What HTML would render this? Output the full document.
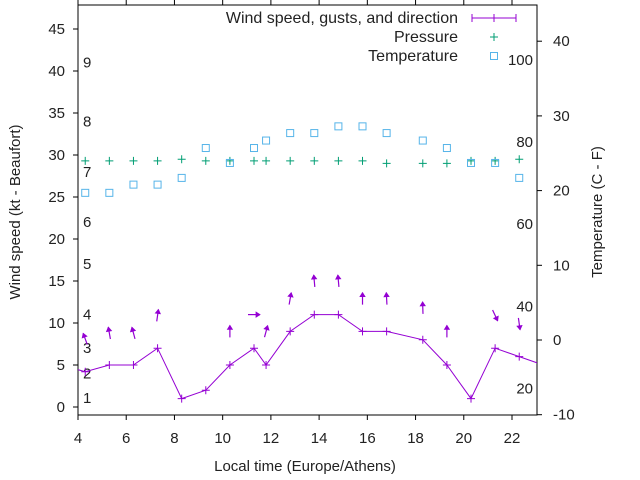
<!DOCTYPE html>
<html><head><meta charset="utf-8"><style>
body{margin:0;background:#fff}
svg{display:block;font-family:"Liberation Sans",Arial,sans-serif}
text{font-size:15px;fill:#222}
#legend text{font-size:16px}
</style></head><body>
<svg id="chart" width="640" height="480" viewBox="0 0 640 480">
<g id="axes"></g>
<g id="beaufort"></g>
<g id="fahr"></g>
<g id="series"></g>
<g id="legend">
<text x="458" y="23" text-anchor="end">Wind speed, gusts, and direction</text>
<g stroke="#9400d3" stroke-width="1"><line x1="472" y1="18" x2="516" y2="18"/><line x1="472" y1="14" x2="472" y2="22"/><line x1="516" y1="14" x2="516" y2="22"/><line x1="490" y1="18" x2="498" y2="18"/><line x1="494" y1="14" x2="494" y2="22"/></g>
<text x="458" y="42" text-anchor="end">Pressure</text>
<g stroke="#009e73"><line x1="490" y1="37" x2="498" y2="37"/><line x1="494" y1="33" x2="494" y2="41"/></g>
<text x="458" y="61" text-anchor="end">Temperature</text>
<rect x="490.5" y="52.5" width="7" height="7" fill="none" stroke="#56b4e9"/>
</g>
<text x="305" y="471" text-anchor="middle">Local time (Europe/Athens)</text>
<text transform="translate(20,212) rotate(-90)" text-anchor="middle">Wind speed (kt - Beaufort)</text>
<text transform="translate(602,212) rotate(-90)" text-anchor="middle">Temperature (C - F)</text>
</svg>
<script>
const times=[3.3,4.3,5.3,6.3,7.3,8.3,9.3,10.3,11.3,11.8,12.8,13.8,14.8,15.8,16.8,18.3,19.3,20.3,21.3,22.3,23.3];
const windSpeed=[5,4.2,5,5,7,1,2,5,7,5,9,11,11,9,9,8,5,1,7,6,5];
const obsTimes=[4.3,5.3,6.3,7.3,8.3,9.3,10.3,11.3,11.8,12.8,13.8,14.8,15.8,16.8,18.3,19.3,20.3,21.3,22.3];
const pressure=[29.3,29.3,29.3,29.3,29.5,29.3,29.3,29.3,29.3,29.3,29.3,29.3,29.3,29.0,29.0,29.0,29.3,29.3,29.5];
const temperature=[19.7,19.7,20.8,20.8,21.7,25.7,23.7,25.7,26.7,27.7,27.7,28.6,28.6,27.7,26.7,25.7,23.7,23.7,21.7];
const arrowTimes=[4.3,5.3,6.3,7.3,10.3,11.3,11.8,12.8,13.8,14.8,15.8,16.8,18.3,19.3,21.3,22.3];
const gusts=[8.1,8.8,8.8,10.9,9.0,11,9.0,12.9,15.0,15.0,12.9,12.9,11.8,9.0,10.9,9.9];
const directions=[-20,-10,-15,8,0,90,15,10,-5,-5,0,-3,-2,0,155,172];
const xTicks=[4,6,8,10,12,14,16,18,20,22];
const yTicks=[0,5,10,15,20,25,30,35,40,45];
const y2Ticks=[-10,0,10,20,30,40];
const beaufortLabels=[[1,1.1],[2,4],[3,7],[4,11],[5,17],[6,22],[7,28],[8,34],[9,41]];
const fahrLabels=[[20,-6.5],[40,4.5],[60,15.5],[80,26.5],[100,37.5]];

const L=78,R=537,T=5,B=415;
const X=v=>L+(v-4)*(434/18);
const Y=v=>407-v*8.4;
const Y2=v=>340-v*7.47;
const NS='http://www.w3.org/2000/svg';
function mk(tag,parent,attrs){const e=document.createElementNS(NS,tag);for(const k in attrs)e.setAttribute(k,attrs[k]);parent.appendChild(e);return e;}
const axes=document.getElementById('axes');
let f=mk('rect',axes,{x:L,y:T,width:R-L,height:B-T,fill:'none',stroke:'#000'});


xTicks.forEach(t=>{
  const x=X(t);
  let a=mk('line',axes,{x1:x,y1:B,x2:x,y2:B+5,stroke:'#000'});
  
  
  let b=mk('line',axes,{x1:x,y1:T,x2:x,y2:T-5,stroke:'#000'});
  
  
  let tx=mk('text',axes,{x:x,y:443,'text-anchor':'middle'});tx.textContent=t;
  
  
});
yTicks.forEach(t=>{
  const y=Y(t);
  let a=mk('line',axes,{x1:L-5,y1:y,x2:L,y2:y,stroke:'#000'});
  
  
  let tx=mk('text',axes,{x:65,y:y+5,'text-anchor':'end'});tx.textContent=t;
  
  
});
y2Ticks.forEach(t=>{
  const y=Y2(t);
  let a=mk('line',axes,{x1:R,y1:y,x2:R+5,y2:y,stroke:'#000'});
  
  
  let tx=mk('text',axes,{x:553,y:y+5,'text-anchor':'start'});tx.textContent=t;
  
  
});
const bf=document.getElementById('beaufort');
beaufortLabels.forEach(([n,v])=>{let t=mk('text',bf,{x:83,y:Y(v)+5});t.textContent=n;
  
  });
const fh=document.getElementById('fahr');
fahrLabels.forEach(([n,v])=>{let t=mk('text',fh,{x:533,y:Y2(v)+5,'text-anchor':'end'});t.textContent=n;
  
  });

const s=document.getElementById('series');
const cp=mk('clipPath',s,{id:'clip'});
mk('rect',cp,{x:L,y:T,width:R-L,height:B-T});
const g=mk('g',s,{'clip-path':'url(#clip)'});
let pl=mk('polyline',g,{points:times.map((t,i)=>X(t)+','+Y(windSpeed[i])).join(' '),fill:'none',stroke:'#9400d3','stroke-width':1});


times.forEach((t,i)=>{const x=X(t),y=Y(windSpeed[i]);
  let m=mk('path',g,{d:`M${x-4},${y}H${x+4}M${x},${y-4}V${y+4}`,stroke:'#9400d3'});
  
  });
arrowTimes.forEach((t,i)=>{
  const a=directions[i]*Math.PI/180,len=12;
  const cx=X(t),cy=Y(gusts[i]);
  const dx=Math.sin(a),dy=-Math.cos(a);
  const x1=cx-dx*len/2,y1=cy-dy*len/2,x2=cx+dx*len/2,y2=cy+dy*len/2;
  const hx1=x2-dx*4+dy*2.5,hy1=y2-dy*4-dx*2.5,hx2=x2-dx*4-dy*2.5,hy2=y2-dy*4+dx*2.5;
  let ar=mk('path',g,{d:`M${x1},${y1}L${x2},${y2}`,stroke:'#9400d3','stroke-width':1.2,fill:'none'});
  
  
  let hd=mk('path',g,{d:`M${hx1},${hy1}L${x2},${y2}L${hx2},${hy2}Z`,fill:'#9400d3',stroke:'#9400d3','stroke-width':0.8});
  
  
});
obsTimes.forEach((t,i)=>{const x=X(t),y=Y(pressure[i]);
  let m=mk('path',g,{d:`M${x-4},${y}H${x+4}M${x},${y-4}V${y+4}`,stroke:'#009e73'});
  
  });
obsTimes.forEach((t,i)=>{const x=X(t),y=Y2(temperature[i]);
  let m=mk('rect',g,{x:x-3.5,y:y-3.5,width:7,height:7,fill:'none',stroke:'#56b4e9'});
  
  });
</script>
</body></html>
